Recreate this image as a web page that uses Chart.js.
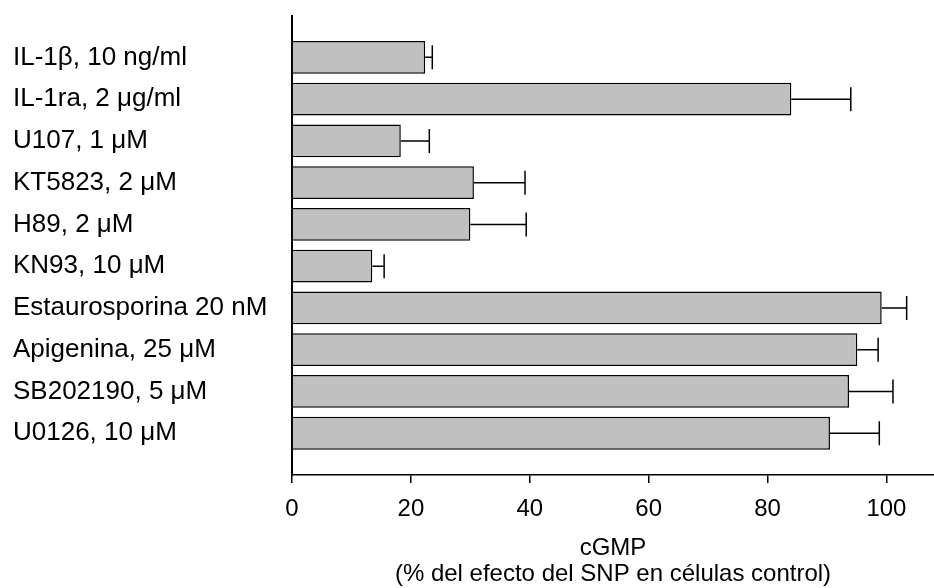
<!DOCTYPE html>
<html>
<head>
<meta charset="utf-8">
<script src="https://cdn.jsdelivr.net/npm/chart.js@4.4.1/dist/chart.umd.min.js"></script>
<style>
  html, body { margin: 0; padding: 0; background: #ffffff; }
  canvas { display: block; }
</style>
</head>
<body>
<canvas id="chart" width="934" height="588"></canvas>
<script>
// Treatments (top to bottom)
const treatments = [
  'IL-1β, 10 ng/ml',
  'IL-1ra, 2 μg/ml',
  'U107, 1 μM',
  'KT5823, 2 μM',
  'H89, 2 μM',
  'KN93, 10 μM',
  'Estaurosporina 20 nM',
  'Apigenina, 25 μM',
  'SB202190, 5 μM',
  'U0126, 10 μM'
];

// cGMP, % of the SNP effect in control cells
const cgmpMean = [22.4, 84.0, 18.3, 30.6, 30.0, 13.5, 99.2, 95.1, 93.7, 90.5];
// Upper error (SEM)
const cgmpError = [1.2, 10.0, 4.8, 8.6, 9.4, 2.0, 4.2, 3.5, 7.4, 8.3];

// x-axis tick values
const xTicks = [0, 20, 40, 60, 80, 100];

const xTitle = ['cGMP', '(% del efecto del SNP en células control)'];

const FONT = '"Liberation Sans", Arial, Helvetica, sans-serif';

// One-sided error bars with a vertical cap
const errorBars = {
  id: 'errorBars',
  afterDatasetsDraw(chart) {
    const { ctx, scales: { x, y } } = chart;
    ctx.save();
    ctx.strokeStyle = '#000000';
    ctx.lineWidth = 1.5;
    cgmpMean.forEach((v, i) => {
      const x0 = x.getPixelForValue(v);
      const x1 = x.getPixelForValue(v + cgmpError[i]);
      const yc = y.getPixelForValue(i);
      ctx.beginPath();
      ctx.moveTo(x0, yc);
      ctx.lineTo(x1, yc);
      ctx.moveTo(x1, yc - 12);
      ctx.lineTo(x1, yc + 12);
      ctx.stroke();
    });
    ctx.restore();
  }
};

new Chart(document.getElementById('chart'), {
  type: 'bar',
  data: {
    datasets: [{
      data: cgmpMean.map((v, i) => ({ x: v, y: i })),
      backgroundColor: '#c0c0c0',
      borderColor: '#000000',
      borderWidth: 1.5,
      borderSkipped: 'start',
      barPercentage: 0.785,
      categoryPercentage: 1
    }]
  },
  options: {
    indexAxis: 'y',
    responsive: false,
    devicePixelRatio: 1,
    animation: false,
    layout: { padding: { left: 13, top: 13, right: 0, bottom: 0 } },
    plugins: {
      legend: { display: false },
      tooltip: { enabled: false }
    },
    scales: {
      y: {
        type: 'linear',
        reverse: true,
        offset: false,
        min: -1,
        max: 10,
        afterFit(scale) { scale.width = 279; },
        grid: { display: false, drawTicks: false, offset: false },
        border: { display: true, color: '#000000', width: 2 },
        ticks: {
          stepSize: 1,
          maxTicksLimit: 20,
          autoSkip: false,
          crossAlign: 'far',
          padding: 0,
          color: '#000000',
          font: { family: FONT, size: 26 },
          callback: (value) => (Number.isInteger(value) && value >= 0 && value < treatments.length) ? treatments[value] : ''
        }
      },
      x: {
        type: 'linear',
        min: 0,
        max: 108,
        afterFit(scale) { scale.height = 113; },
        afterBuildTicks(scale) { scale.ticks = xTicks.map(v => ({ value: v })); },
        grid: {
          display: true,
          drawOnChartArea: false,
          drawTicks: true,
          tickLength: 8,
          color: '#000000',
          lineWidth: 1.5
        },
        border: { display: true, color: '#000000', width: 1.5 },
        ticks: {
          includeBounds: false,
          padding: 12,
          color: '#000000',
          font: { family: FONT, size: 24 },
          maxRotation: 0
        },
        title: {
          display: true,
          text: xTitle,
          color: '#000000',
          font: { family: FONT, size: 24, lineHeight: 1.1 },
          padding: { top: 0, bottom: 0 }
        }
      }
    }
  },
  plugins: [errorBars]
});
</script>
</body>
</html>
